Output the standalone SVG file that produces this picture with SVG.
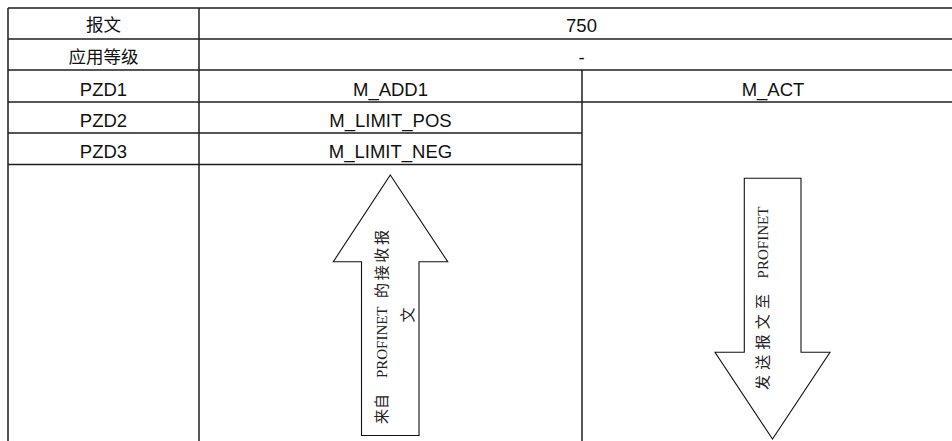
<svg xmlns="http://www.w3.org/2000/svg" width="952" height="441" viewBox="0 0 952 441">
<style>
.grid{stroke:#1e1e1e;stroke-width:1.5;fill:none}
.t{font-family:"Liberation Sans","Noto Sans CJK SC",sans-serif;font-size:18.5px;fill:#111;text-anchor:middle}
.c{font-family:"Liberation Sans","Noto Sans CJK SC",sans-serif;font-size:17.5px;fill:#111;text-anchor:middle}
.arrow{fill:#fff;stroke:#111;stroke-width:1.1;stroke-linejoin:miter}
.at{font-family:"Liberation Serif","Noto Sans CJK SC",serif;font-size:15px;fill:#222}
.ac{font-family:"Liberation Serif","Noto Sans CJK SC",serif;font-size:15px;fill:#222}
</style>
<rect width="952" height="441" fill="#fff"/>
<g id="table" class="grid">
<line x1="8" y1="8" x2="964" y2="8"/>
<line x1="8" y1="39" x2="964" y2="39"/>
<line x1="8" y1="70" x2="964" y2="70"/>
<line x1="8" y1="102" x2="964" y2="102"/>
<line x1="8" y1="133" x2="582" y2="133"/>
<line x1="8" y1="164.5" x2="582" y2="164.5"/>
<line x1="8" y1="8" x2="8" y2="441"/>
<line x1="199" y1="8" x2="199" y2="441"/>
<line x1="582" y1="70" x2="582" y2="441"/>
</g>
<g id="row-telegram"><text class="c" x="103.5" y="31">报文</text><text class="t" x="581.5" y="32">750</text></g>
<g id="row-class"><text class="c" x="103.5" y="63">应用等级</text><text class="t" x="581.5" y="64">-</text></g>
<g id="row-pzd1"><text class="t" x="103.5" y="95.5">PZD1</text><text class="t" x="390.5" y="95.5">M_ADD1</text><text class="t" x="773" y="95.5">M_ACT</text></g>
<g id="row-pzd2"><text class="t" x="103.5" y="126.7">PZD2</text><text class="t" x="390.5" y="126.7">M_LIMIT_POS</text></g>
<g id="row-pzd3"><text class="t" x="103.5" y="158.3">PZD3</text><text class="t" x="390.5" y="158.3">M_LIMIT_NEG</text></g>
<g id="arrow-receive">
<polygon class="arrow" points="390.3,175 447.7,261.7 419,261.7 419,435.5 361.5,435.5 361.5,261.7 333.3,261.7"/>
<g transform="translate(387,0) rotate(-90)">
<text class="ac" x="-424" y="0">来自</text>
<text class="at" x="-378" y="0" textLength="71.5" lengthAdjust="spacing">PROFINET</text>
<text class="ac" x="-298" y="0" textLength="68" lengthAdjust="spacing">的接收报</text>
</g>
<text class="ac" transform="translate(413,315) rotate(-90)" text-anchor="middle">文</text>
</g>
<g id="arrow-send">
<polygon class="arrow" points="744.3,178.3 801,178.3 801,352.3 830,352.3 772.5,439 715,352.3 744.3,352.3"/>
<g transform="translate(767.5,0) rotate(-90)">
<text class="ac" x="-390" y="0" textLength="96" lengthAdjust="spacing">发送报文至</text>
<text class="at" x="-278.5" y="0" textLength="72" lengthAdjust="spacing">PROFINET</text>
</g>
</g>
</svg>
